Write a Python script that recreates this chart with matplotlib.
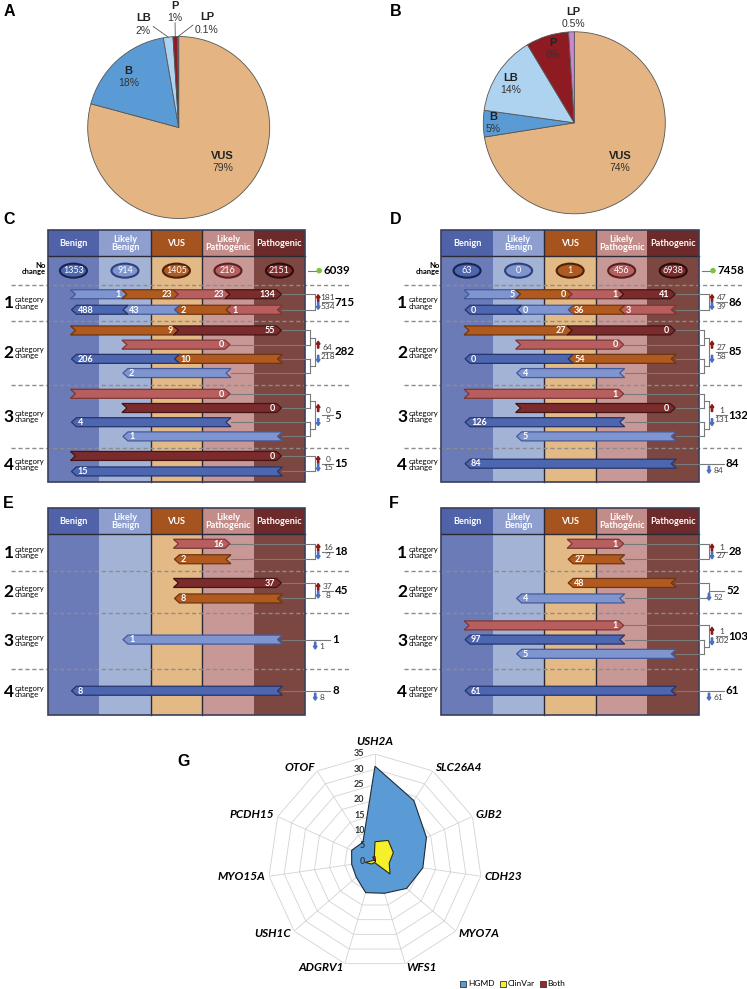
import matplotlib
matplotlib.use('Agg')
import matplotlib.pyplot as plt
from matplotlib.patches import Polygon, Rectangle, Ellipse, Circle
from matplotlib.transforms import offset_copy
import numpy as np

plt.rcParams['font.family'] = ['Liberation Sans', 'DejaVu Sans']

# ---------------- data ----------------
PIE_NAMES = ['VUS', 'B', 'LB', 'P', 'LP']
PIE_A_VALUES = [79.2, 18.1, 1.7, 0.8, 0.2]
PIE_A_LABELS = ['79%', '18%', '2%', '1%', '0.1%']
PIE_B_VALUES = [72.5, 4.7, 14.2, 7.6, 1.0]
PIE_B_LABELS = ['74%', '5%', '14%', '6%', '0.5%']
PIE_COLORS = ['#E4B583', '#5B9BD5', '#AED3F1', '#8E1B22', '#CC88CC']

CATS = ['Benign', 'Likely\nBenign', 'VUS', 'Likely\nPathogenic', 'Pathogenic']

C_NO_CHANGE = [1353, 914, 1405, 216, 2151]
C_UP = {1: [[(0, 1, 1), (1, 2, 23), (2, 3, 23), (3, 4, 134)]],
        2: [[(0, 2, 9), (2, 4, 55)], [(1, 3, 0)]],
        3: [[(0, 3, 0)], [(1, 4, 0)]],
        4: [[(0, 4, 0)]]}
C_DOWN = {1: [[(4, 3, 1), (3, 2, 2), (2, 1, 43), (1, 0, 488)]],
          2: [[(4, 2, 10), (2, 0, 206)], [(3, 1, 2)]],
          3: [[(3, 0, 4)], [(4, 1, 1)]],
          4: [[(4, 0, 15)]]}

D_NO_CHANGE = [63, 0, 1, 456, 6938]
D_UP = {1: [[(0, 1, 5), (1, 2, 0), (2, 3, 1), (3, 4, 41)]],
        2: [[(0, 2, 27), (2, 4, 0)], [(1, 3, 0)]],
        3: [[(0, 3, 1)], [(1, 4, 0)]],
        4: []}
D_DOWN = {1: [[(4, 3, 3), (3, 2, 36), (2, 1, 0), (1, 0, 0)]],
          2: [[(4, 2, 54), (2, 0, 0)], [(3, 1, 4)]],
          3: [[(3, 0, 126)], [(4, 1, 5)]],
          4: [[(4, 0, 84)]]}

E_UP = {1: [[(2, 3, 16)]], 2: [[(2, 4, 37)]], 3: [], 4: []}
E_DOWN = {1: [[(3, 2, 2)]], 2: [[(4, 2, 8)]], 3: [[(4, 1, 1)]], 4: [[(4, 0, 8)]]}

F_UP = {1: [[(2, 3, 1)]], 2: [], 3: [[(0, 3, 1)]], 4: []}
F_DOWN = {1: [[(3, 2, 27)]], 2: [[(4, 2, 48)], [(3, 1, 4)]],
          3: [[(3, 0, 97)], [(4, 1, 5)]], 4: [[(4, 0, 61)]]}

GENES = ['USH2A', 'SLC26A4', 'GJB2', 'CDH23', 'MYO7A', 'WFS1', 'ADGRV1',
         'USH1C', 'MYO15A', 'PCDH15', 'OTOF']
HGMD = [31, 23.5, 18.5, 15.8, 13.7, 11, 10.8, 8.1, 7.7, 8.4, 7.3]
CLINVAR = [6.3, 8.0, 6.6, 4.7, 6.5, 0.8, 0.5, 1.5, 3.2, 0.5, 0.5]
BOTH = [1.5, 0.3, 0, 0, 0.3, 0, 0, 0, 0, 0, 1.5]
RING_TICKS = [0, 5, 10, 15, 20, 25, 30, 35]

# ---------------- styles ----------------
HEAD_COL = ['#5163A8', '#8D9ECF', '#A5531F', '#C28C89', '#6D2A2A']
BODY_COL = ['#6B7BB8', '#A3B3D6', '#E3B985', '#C89896', '#7D4741']
ARR_FILL = ['#4D66B0', '#7F95D0', '#B15A1F', '#B75F5F', '#7B2B2B']
ARR_EDGE = ['#26346B', '#45599A', '#6E3510', '#7D3535', '#451414']
ELL_EDGE = ['#1A2350', '#2E3F7A', '#4A230A', '#5A2020', '#2E0A0A']
DFONT = 'Lato'
TOT_FS = 8.3

W, H = 747, 989
fig = plt.figure(figsize=(W / 100, H / 100), dpi=100)
ov = fig.add_axes([0, 0, 1, 1])
ov.set_xlim(0, W)
ov.set_ylim(H, 0)
ov.axis('off')


def letter(x, y, s):
    ov.text(x, y, s, fontsize=11.5, fontweight='bold', ha='center', va='center')


# ---------------- pies ----------------
def draw_pie(cx, cy, r, values, labels, label_pos, leaders):
    L = 1.45
    half = L * r
    ax = fig.add_axes([(cx - half) / W, (H - cy - half) / H, 2 * half / W, 2 * half / H])
    wedges, _ = ax.pie(values, colors=PIE_COLORS, startangle=90, counterclock=False,
                       wedgeprops=dict(edgecolor='#555555', linewidth=0.6))
    ax.set_xlim(-L, L)
    ax.set_ylim(-L, L)
    for i, (name, pct) in enumerate(zip(PIE_NAMES, labels)):
        x, y = label_pos[i]
        ax.text(x, y, name, ha='center', va='center', fontsize=8, fontweight='bold', color='#222222')
        ax.text(x, y - 0.135, pct, ha='center', va='center', fontsize=7.5, color='#333333')
        if i in leaders:
            th = np.deg2rad((wedges[i].theta1 + wedges[i].theta2) / 2)
            sx, sy = leaders[i]
            ax.plot([sx, np.cos(th)], [sy, np.sin(th)], color='#555555', lw=0.6)
    return ax


draw_pie(178.7, 127.5, 91, PIE_A_VALUES, PIE_A_LABELS,
         [(0.48, -0.31), (-0.55, 0.62), (-0.39, 1.20), (-0.04, 1.335), (0.31, 1.21)],
         {2: (-0.28, 1.11), 3: (-0.04, 1.15), 4: (0.157, 1.126)})
draw_pie(574.3, 122.8, 91, PIE_B_VALUES, PIE_B_LABELS,
         [(0.5, -0.365), (-0.89, 0.064), (-0.70, 0.49), (-0.23, 0.88), (-0.014, 1.22)],
         {})
letter(9, 11, 'A')
letter(396, 11, 'B')


# ---------------- transition panels ----------------
def icon(x, y, up):
    col = '#8B1A1A' if up else '#4A6FC0'
    if up:
        ov.arrow(x, y + 3.5, 0, -7, width=1.3, head_width=3.8, head_length=3,
                 length_includes_head=True, fc=col, ec=col, zorder=5)
    else:
        ov.arrow(x, y - 3.5, 0, 7, width=1.3, head_width=3.8, head_length=3,
                 length_includes_head=True, fc=col, ec=col, zorder=5)


def chevron(left, w, cs, ct, y, count):
    xs = left + w * (cs + 0.5)
    xt = left + w * (ct + 0.5)
    h = 4.5
    sg = 1 if ct > cs else -1
    a, d = -3 * sg, 5 * sg
    tail, notch, hb, tip = xs + a, xs + a + d, xt + a, xt + a + d
    poly = [(tail, y - h), (hb, y - h), (tip, y), (hb, y + h), (tail, y + h), (notch, y)]
    ov.add_patch(Polygon(poly, closed=True, fc=ARR_FILL[ct], ec=ARR_EDGE[ct], lw=0.9, zorder=4))
    ov.text(tip - sg * 6, y + 0.3, str(count), ha='right' if sg > 0 else 'left', va='center',
            fontsize=6.5, color='white', family=DFONT, fontweight='bold', zorder=5)
    return max(tail, tip)


LINE = dict(color='#7A7A7A', lw=0.8, zorder=3)


def right_side(R, up_ends, down_ends, up_tot, down_tot):
    Xo, Xi = R + 10, R + 5
    if up_ends and down_ends:
        mids = []
        for ends in (up_ends, down_ends):
            if len(ends) > 1:
                for y, xe in ends:
                    ov.plot([xe, Xi], [y, y], **LINE)
                ys = [y for y, _ in ends]
                ov.plot([Xi, Xi], [min(ys), max(ys)], **LINE)
                m = (min(ys) + max(ys)) / 2
                ov.plot([Xi, Xo], [m, m], **LINE)
            else:
                y, xe = ends[0]
                ov.plot([xe, Xo], [y, y], **LINE)
                m = y
            mids.append(m)
        ov.plot([Xo, Xo], mids, **LINE)
        mid = (mids[0] + mids[1]) / 2
        icon(Xo + 3, (mids[0] + mid) / 2, True)
        icon(Xo + 3, (mids[1] + mid) / 2, False)
        ov.plot([Xo + 7, Xo + 18], [mid, mid], **LINE)
        ov.text(Xo + 12.5, mid - 0.8, str(up_tot), ha='center', va='bottom', fontsize=6,
                color='#444444', family=DFONT)
        ov.text(Xo + 12.5, mid + 0.8, str(down_tot), ha='center', va='top', fontsize=6,
                color='#444444', family=DFONT)
        ov.text(Xo + 19.5, mid, str(up_tot + down_tot), ha='left', va='center', fontsize=TOT_FS,
                fontweight='bold', family=DFONT)
    else:
        ends = up_ends or down_ends
        up = bool(up_ends)
        tot = up_tot if up else down_tot
        if len(ends) > 1:
            for y, xe in ends:
                ov.plot([xe, Xo], [y, y], **LINE)
            ys = [y for y, _ in ends]
            ov.plot([Xo, Xo], [min(ys), max(ys)], **LINE)
            mid = (min(ys) + max(ys)) / 2
            ov.plot([Xo, R + 25], [mid, mid], **LINE)
        else:
            mid, xe = ends[0]
            ov.plot([xe, R + 25], [mid, mid], **LINE)
        icon(R + 10, mid + 6, up)
        ov.text(R + 14.5, mid + 6.5, str(tot), ha='left', va='center', fontsize=6,
                color='#444444', family=DFONT)
        ov.text(R + 27, mid, str(tot), ha='left', va='center', fontsize=TOT_FS,
                fontweight='bold', family=DFONT)


def draw_panel(left, right, head_top, bands, ups, downs, no_change=None):
    w = (right - left) / 5
    head_bot = bands[0]
    bottom = bands[-1]
    for i in range(5):
        ov.add_patch(Rectangle((left + i * w, head_bot), w, bottom - head_bot,
                               fc=BODY_COL[i], ec='none', zorder=1))
        ov.add_patch(Rectangle((left + i * w, head_top), w, head_bot - head_top,
                               fc=HEAD_COL[i], ec='none', zorder=1))
        ov.text(left + (i + 0.5) * w, (head_top + head_bot) / 2 + 0.5, CATS[i], ha='center',
                va='center', fontsize=6.6, color='white', family=DFONT, fontweight='bold',
                linespacing=0.9, zorder=2)
    for i in (2, 3):
        ov.plot([left + i * w] * 2, [head_top, bottom], color='#2A2A35', lw=1, zorder=2)
    ov.plot([left, right], [head_bot, head_bot], color='#2A2A35', lw=1, zorder=2)
    ov.add_patch(Rectangle((left, head_top), right - left, bottom - head_top, fc='none',
                           ec='#3A3F5A', lw=1.2, zorder=3))
    for yb in bands[1:-1]:
        ov.plot([left - 37, right + 45], [yb, yb], color='#8C8C8C', lw=1,
                dashes=(3, 2), zorder=2.5)
    k0 = 0
    if no_change is not None:
        t, b = bands[0], bands[1]
        yc = (t + b) / 2
        for i, v in enumerate(no_change):
            ov.add_patch(Ellipse((left + (i + 0.5) * w, yc), 27, 14, fc=ARR_FILL[i],
                                 ec=ELL_EDGE[i], lw=1.5, zorder=4))
            ov.text(left + (i + 0.5) * w, yc + 0.3, str(v), ha='center', va='center',
                    fontsize=6.5, color='white', family=DFONT, zorder=5)
        ov.text(left - 2, yc - 2, 'No\nchange', ha='right', va='center', fontsize=5.5,
                fontweight='bold', family=DFONT, linespacing=0.85)
        ov.plot([right + 3, right + 12], [yc, yc], **LINE)
        ov.add_patch(Circle((right + 14, yc), 2.8, fc='#7DC242', ec='none', zorder=5))
        ov.text(right + 18, yc, str(sum(no_change)), ha='left', va='center', fontsize=TOT_FS,
                fontweight='bold', family=DFONT)
        k0 = 1
    for lvl in range(1, 5):
        t, b = bands[k0 + lvl - 1], bands[k0 + lvl]
        yc = (t + b) / 2
        ov.text(left - 34, yc + 0.5, str(lvl), ha='right', va='center', fontsize=12.5,
                fontweight='bold', family=DFONT)
        ov.text(left - 33, yc, 'category\nchange', ha='left', va='center', fontsize=5.6,
                family=DFONT, linespacing=0.85)
        up_rows = ups.get(lvl, [])
        down_rows = downs.get(lvl, [])
        rows = up_rows + down_rows
        n = len(rows)
        sp = 15.5 if n <= 2 else 14.2
        up_ends, down_ends = [], []
        for j, row in enumerate(rows):
            y = yc - 1 + sp * (j - (n - 1) / 2)
            xe = max(chevron(left, w, cs, ct, y, c) for cs, ct, c in row)
            (up_ends if j < len(up_rows) else down_ends).append((y, xe))
        up_tot = sum(c for row in up_rows for _, _, c in row)
        down_tot = sum(c for row in down_rows for _, _, c in row)
        right_side(right, up_ends, down_ends, up_tot, down_tot)


CD_BANDS = [256.3, 285, 321, 384.5, 447.7, 481.7]
EF_BANDS = [534.3, 570.7, 612.7, 668.5, 715]
draw_panel(47.7, 305.2, 230, CD_BANDS, C_UP, C_DOWN, C_NO_CHANGE)
draw_panel(441.3, 699, 230, CD_BANDS, D_UP, D_DOWN, D_NO_CHANGE)
draw_panel(47.7, 305.2, 508.3, EF_BANDS, E_UP, E_DOWN)
draw_panel(441.3, 699, 508.3, EF_BANDS, F_UP, F_DOWN)
letter(9, 220, 'C')
letter(396, 220, 'D')
letter(8, 503, 'E')
letter(394, 503, 'F')
letter(184, 762, 'G')

# ---------------- radar ----------------
cx, cy, R = 375, 861, 107
rax = fig.add_axes([(cx - R) / W, (H - cy - R) / H, 2 * R / W, 2 * R / H], projection='polar')
rax.set_theta_zero_location('N')
rax.set_theta_direction(-1)
rax.set_ylim(0, RING_TICKS[-1])
rax.set_axis_off()
ang = np.arange(len(GENES)) * 2 * np.pi / len(GENES)
angc = np.append(ang, ang[0])
for v in RING_TICKS[1:]:
    rax.plot(angc, [v] * len(angc), color='#D3D3D3', lw=0.6, zorder=1)
for a in ang:
    rax.plot([a, a], [0, RING_TICKS[-1]], color='#D3D3D3', lw=0.6, zorder=1)


def closed(v):
    return np.append(v, v[0])


rax.fill(angc, closed(HGMD), fc='#5B9BD5', ec='#1E2A38', lw=0.8, zorder=2)
rax.fill(angc, closed(CLINVAR), fc='#F5F02A', ec='#2A2A10', lw=0.8, zorder=3)
rax.fill(angc, closed(BOTH), fc='#A0262B', ec='#3A0A0A', lw=0.6, zorder=4)
tt = offset_copy(rax.transData, fig=fig, x=-7.5, y=0, units='points')
for v in RING_TICKS:
    rax.text(0, v, str(v), transform=tt, ha='right', va='center', fontsize=6.5,
             fontweight='bold', color='#333333', family=DFONT)
for a, g in zip(ang, GENES):
    if np.isclose(a, 0):
        rax.text(a, 37.2, g, ha='center', va='bottom', fontsize=8.5, fontweight='bold',
                 style='italic', family=DFONT)
    else:
        rax.text(a, 36.3, g, ha='left' if a < np.pi else 'right', va='center', fontsize=8.5,
                 fontweight='bold', style='italic', family=DFONT)

handles = [Rectangle((0, 0), 1, 1, fc='#5B9BD5', ec='#333333', lw=0.6),
           Rectangle((0, 0), 1, 1, fc='#F5F02A', ec='#333333', lw=0.6),
           Rectangle((0, 0), 1, 1, fc='#A0262B', ec='#333333', lw=0.6)]
fig.legend(handles, ['HGMD', 'ClinVar', 'Both'], loc='center', ncol=3,
           bbox_to_anchor=(513 / W, 1 - 984 / H), frameon=False,
           handlelength=0.7, handleheight=0.7, handletextpad=0.25, columnspacing=0.6,
           prop={'family': DFONT, 'size': 6})

fig.savefig('out.png', dpi=100)
